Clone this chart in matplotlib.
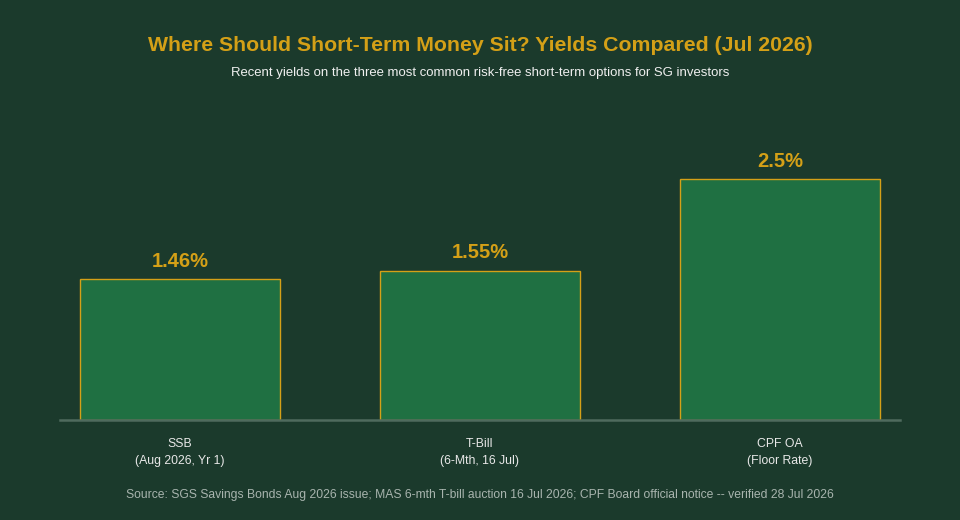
import matplotlib
matplotlib.use("Agg")
import matplotlib.pyplot as plt

categories = ["SSB\n(Aug 2026, Yr 1)", "T-Bill\n(6-Mth, 16 Jul)", "CPF OA\n(Floor Rate)"]
yields = [1.46, 1.55, 2.5]
value_labels = ["1.46%", "1.55%", "2.5%"]

bg = "#1b3a2c"
bar_color = "#1f7042"
gold = "#d4a017"

plt.rcParams["font.family"] = ["Liberation Sans", "DejaVu Sans"]

fig = plt.figure(figsize=(9.6, 5.2), dpi=100, facecolor=bg)
ax = fig.add_axes([0.0625, 0.1923, 0.875, 0.6019])
ax.set_facecolor(bg)

x = range(len(categories))
bars = ax.bar(x, yields, width=0.667, color=bar_color, edgecolor=gold, linewidth=1)
for xi, v, lab in zip(x, yields, value_labels):
    ax.annotate(lab, (xi, v), xytext=(0, 6), textcoords="offset points",
                ha="center", va="bottom", color=gold, fontsize=14.5, fontweight="bold")

ax.set_xlim(-0.4, 2.4)
ax.set_ylim(0, 3.25)
ax.set_xticks(list(x))
ax.set_xticklabels(categories, color="#e8e8e8", fontsize=8.8, linespacing=1.55)
ax.tick_params(axis="x", length=0, pad=13)
ax.set_yticks([])
for s in ["top", "right", "left"]:
    ax.spines[s].set_visible(False)
ax.spines["bottom"].set_color("#4f6b5e")
ax.spines["bottom"].set_linewidth(1.8)

fig.text(0.5, 0.913, "Where Should Short-Term Money Sit? Yields Compared (Jul 2026)",
         ha="center", va="center", color=gold, fontsize=15.3, fontweight="bold")
fig.text(0.5, 0.860, "Recent yields on the three most common risk-free short-term options for SG investors",
         ha="center", va="center", color="#f0f0f0", fontsize=9.45)
fig.text(0.5, 0.048, "Source: SGS Savings Bonds Aug 2026 issue; MAS 6-mth T-bill auction 16 Jul 2026; CPF Board official notice -- verified 28 Jul 2026",
         ha="center", va="center", color="#a8b4ae", fontsize=8.7)

fig.savefig("out.png", dpi=100, facecolor=bg)
